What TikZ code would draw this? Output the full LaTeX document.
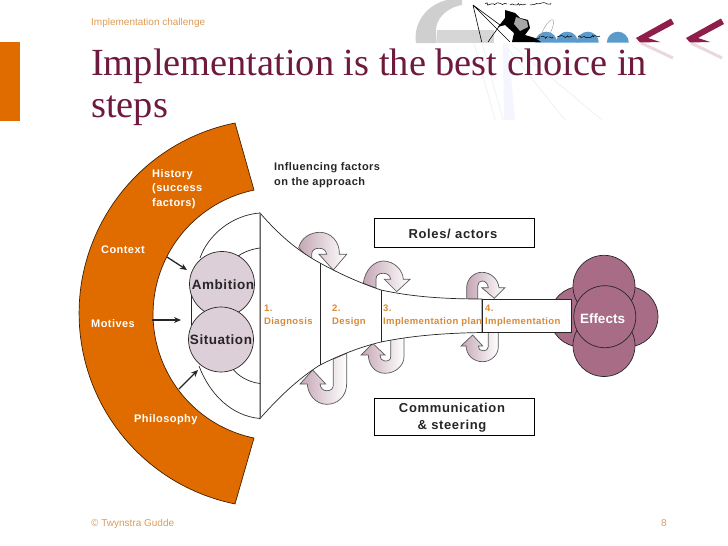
\documentclass[tikz,border=0pt]{standalone}
\usepackage{fontspec}
\usetikzlibrary{decorations.pathmorphing,arrows.meta}
\setmainfont{Liberation Sans}
\newfontfamily\titlefont{Liberation Serif}
\newfontfamily\labfont[LetterSpace=4]{Liberation Sans}
\newfontfamily\labwide[LetterSpace=5]{Liberation Sans}
\definecolor{orangeb}{HTML}{E06C00}
\definecolor{titlec}{HTML}{6E1A3E}
\definecolor{headc}{HTML}{DE9A55}
\definecolor{stepc}{HTML}{D98A35}
\definecolor{palem}{HTML}{DDCFD7}
\definecolor{effc}{HTML}{A96C87}
\definecolor{arrowm}{HTML}{C5A6B5}
\definecolor{chev}{HTML}{8E1F4A}
\definecolor{chevr}{HTML}{EBD8DF}
\definecolor{bluec}{HTML}{5B9BCB}
\definecolor{greyc}{HTML}{CFCFCF}
\tikzset{
  outl/.style={draw=black!85,line width=0.7pt},
  turn/.style={draw=black!65,line width=0.7pt,left color=arrowm,right color=white},
  lab/.style={inner sep=0pt,anchor=west,font=\labfont\bfseries\fontsize{11}{14.5}\selectfont,align=left},
  wlab/.style={lab,text=white},
  steplab/.style={inner sep=0pt,anchor=west,font=\labfont\bfseries\fontsize{9.5}{13}\selectfont,align=left,text=stepc},
  bub/.style={circle,draw=black!85,line width=0.7pt,fill=palem,inner sep=0pt,minimum size=65pt},
  bubtxt/.style={inner sep=0pt,font=\labfont\bfseries\fontsize{13.5}{14}\selectfont,text=black!85},
  eff/.style={circle,draw=black!85,line width=0.7pt,fill=effc,inner sep=0pt},
  infl/.style={-{Stealth[length=7pt,width=6pt]},line width=1.3pt,draw=black!85},
  tbox/.style={draw=black,line width=0.7pt,fill=white,inner sep=0pt,anchor=north west},
  tboxtxt/.style={inner sep=0pt,align=center,font=\labwide\bfseries\fontsize{13}{17}\selectfont,text=black!85},
  ttl/.style={inner sep=0pt,anchor=base west,text=titlec,font=\titlefont\fontsize{38.4}{42}\selectfont},
  small/.style={inner sep=0pt,text=headc,font=\fontsize{10}{11}\selectfont},
  scrawl/.style={black,line width=0.5pt,decorate,decoration={random steps,segment length=2pt,amplitude=1.3pt}}
}
\begin{document}
\begin{tikzpicture}[x=1pt,y=1pt,yscale=-1]
\useasboundingbox (0,0) rectangle (728,546);
% logo
\fill[greyc] (416,43) .. controls (413,25) and (425,5) .. (447,0) -- (462,0) -- (462,5) .. controls (445,8) and (436,20) .. (436,30) -- (436.7,43) -- cycle;
\fill[greyc!85] (436.7,30) rectangle (494,42.7);
\draw[black!6,line width=0.8pt] (474,43) -- (495,120) (482,43) -- (503,120) (505,45) -- (565,120) (512,45) -- (602,120);
\fill[blue!4] (503,43) -- (508,43) -- (515,120) -- (504,120) -- cycle;
\foreach \cx in {545.7,566.7,587.3,617.3}{\fill[bluec] (\cx-10.5,42.7) arc[start angle=180,end angle=360,radius=11] -- cycle;}
\draw[black,line width=0.6pt] (473,5) -- (481.7,42) (473,5) -- (510,42) (473,5) -- (500,25) (500,25) -- (488,42);
\fill[black] (505,10) -- (515,13) -- (520,18) -- (528,20) -- (530,28) -- (525,35) -- (535,38) -- (541,42) -- (512,42) -- (514,33) -- (505,25) -- (498,27) -- (505,18) -- cycle;
\fill[black!35] (516,17) -- (527,21) -- (528,27) -- (520,31) -- (514,24) -- cycle;
\draw[scrawl] (485,4) -- (507,4);
\draw[scrawl] (510,5) -- (526,4);
\draw[scrawl] (530,5) -- (551,3);
\draw[scrawl] (536,38) -- (553,37);
\draw[scrawl] (557,37) -- (572,36);
\draw[scrawl] (578,37) -- (600,36);
\draw[black!40,line width=0.4pt] (540,38) .. controls (543,28) and (550,18) .. (553,20) .. controls (555,24) and (550,36) .. (545,41);
\draw[chevr,line width=3pt] (641,43) -- (673,58);
\draw[chevr,line width=3pt] (691,43) -- (722,58);
\fill[chev] (671,18.5) -- (674,24) -- (648,38) -- (660,42) -- (640,42.5) -- (636,38) -- cycle;
\fill[chev] (721,18.5) -- (724,24) -- (698,38) -- (710,42) -- (690,42.5) -- (686,38) -- cycle;
% header etc.
\fill[orangeb] (0,42) rectangle (20,121);
\node[small,anchor=base west] (head) at (91,25) {Implementation challenge};
\node[ttl] (t1) at (91,75) {Implementation is the best choice in};
\node[ttl] (t2) at (91,117) {steps};
\node[small,anchor=base west] (foot) at (91,526) {© Twynstra Gudde};
\node[small,anchor=base east] (pageno) at (667,526) {8};
% ring
\draw[fill=orangeb,draw=black!70!orangeb,line width=0.7pt] (235,123) arc[start angle=258.6,end angle=101.4,radius=194.3] -- (254,438) arc[start angle=101.7,end angle=258.3,radius=126.6] -- cycle;
% turning arrows
\path[turn] (298.7,247.7) .. controls (301,238) and (310,232.3) .. (320,232.3) .. controls (331,232.3) and (340,242) .. (339.3,254.3) -- (346.7,254.3) -- (333.3,270) -- (319,254.3) -- (326.7,254.3) .. controls (326,250) and (323,248.3) .. (319,248.3) .. controls (315,248.3) and (311.7,250) .. (311.7,254) -- (311.7,262) -- cycle;
\path[turn] (363.3,283.3) .. controls (365,270) and (374,261) .. (383.3,261) .. controls (394,261) and (403,270) .. (403.3,279.3) -- (410,279.3) -- (396.7,291.7) -- (384.3,279.3) -- (390.7,279.3) .. controls (390,275) and (387,273.3) .. (383.3,273.3) .. controls (379,273.3) and (376,275) .. (376,279) -- (376,288) -- cycle;
\path[turn] (466.7,299) -- (466.7,287) .. controls (467,279) and (474,272.3) .. (481.7,272.3) .. controls (491,272.3) and (498,279) .. (499,287.7) -- (505,287.7) -- (494.3,298.3) -- (481.7,287.7) -- (488.3,287.7) .. controls (488,284) and (485.5,281) .. (482.3,281) .. controls (479.5,281) and (477.7,283) .. (477.7,286) -- (477.7,299) -- cycle;
\path[turn] (346.7,353.3) -- (346.7,383.3) .. controls (346.7,396) and (338,404.3) .. (326.7,404.3) .. controls (316,404.3) and (308,395) .. (307.3,384) -- (300,384) -- (312.7,370) -- (325.7,384) -- (320,384) .. controls (320.5,388) and (323,390.7) .. (326.7,390.7) .. controls (330.5,390.7) and (333.3,389) .. (333.3,385) -- (333.3,359) -- cycle;
\path[turn] (404,336.7) -- (404,356.7) .. controls (404,366) and (395,373.3) .. (385,373.3) .. controls (375,373.3) and (368.5,365) .. (368.3,355) -- (361,355) -- (372.7,343.3) -- (385,355) -- (380,355) .. controls (380.5,359) and (382,361) .. (385,361) .. controls (388.5,361) and (390.7,360) .. (390.7,356.7) -- (390.7,338) -- cycle;
\path[turn] (498.3,331.7) -- (498.3,346.7) .. controls (498.3,355) and (491,361.7) .. (482.7,361.7) .. controls (473,361.7) and (466.5,355) .. (466,346) -- (461,346) -- (472.7,335) -- (482.7,346) -- (478.3,346) .. controls (478.5,349) and (480,350.7) .. (482.7,350.7) .. controls (486,350.7) and (488.3,349.5) .. (488.3,346.7) -- (488.3,331.7) -- cycle;
% effects circles
\node[eff,minimum size=60pt] (effL) at (580,316.7) {};
\node[eff,minimum size=60pt] (effR) at (628,316.7) {};
\node[eff,minimum size=62pt] (effT) at (604,286.3) {};
\node[eff,minimum size=62pt] (effB) at (604,345.5) {};
\node[eff,minimum size=62pt] (eff) at (604.8,316.7) {};
\node[inner sep=0pt,text=white,font=\bfseries\fontsize{13.5}{14}\selectfont] (effText) at (602.5,318.5) {Effects};
% funnel
\path[fill=white,outl] (260,213) .. controls (280,236) and (298,251) .. (320,263) .. controls (340,274) and (360,283) .. (381,290) .. controls (415,297.5) and (450,299) .. (482,299) -- (482,332.5) .. controls (450,333) and (415,335) .. (381,342) .. controls (360,347) and (340,355) .. (320,365) .. controls (298,379) and (280,396) .. (260,418.5) -- cycle;
\draw[fill=white,outl] (482,299) rectangle (571,332.5);
\draw[black!60,line width=1pt] (260,213) -- (260,418.5);
\draw[outl] (320,263) -- (320,365) (381,290) -- (381,342);
% dome
\draw[outl] (260,213) .. controls (232,215) and (208,235) .. (200,258);
\draw[outl] (260,418.5) .. controls (232,416) and (210,395) .. (199,366);
\draw[outl] (237,257) .. controls (243,252) and (252,249) .. (260,248);
\draw[outl] (232,368) .. controls (238,376) and (248,382) .. (260,383.5);
\draw[outl] (191,290) -- (191,325);
\node[bub] (amb) at (222,284) {};
\node[bub] (sit) at (221,339.5) {};
\node[bubtxt] (ambText) at (223,285) {Ambition};
\node[bubtxt] (sitText) at (221,340) {Situation};
% influence arrows
\coordinate (c1) at (167,257); \coordinate (c2) at (187,270);
\coordinate (m1) at (152,320); \coordinate (m2) at (181,320);
\coordinate (p1) at (179,389); \coordinate (p2) at (198,370);
\draw[infl] (c1) -- (c2);
\draw[infl] (m1) -- (m2);
\draw[infl] (p1) -- (p2);
% ring labels
\node[wlab] (hist) at (152,189) {History\\(success\\factors)};
\node[wlab] (ctx) at (101,249.5) {Context};
\node[wlab] (mot) at (91,323.5) {Motives};
\node[wlab] (phil) at (134,419.5) {Philosophy};
\node[lab,text=black!85] (infltxt) at (274,175) {Influencing factors\\on the approach};
% step labels
\node[steplab] (s1) at (264,316) {1.\\Diagnosis};
\node[steplab] (s2) at (332,316) {2.\\Design};
\node[steplab] (s3) at (383,316) {3.\\Implementation plan};
\node[steplab] (s4) at (485,316) {4.\\Implementation};
% boxes
\node[tbox,minimum width=159.4pt,minimum height=29pt] (roles) at (374.3,218.3) {};
\node[tboxtxt] (rolesText) at (453,234) {Roles/ actors};
\node[tbox,minimum width=159.4pt,minimum height=37pt] (comm) at (374.3,398.3) {};
\node[tboxtxt] (commText) at (452,418) {Communication\\\& steering};
\end{tikzpicture}
\end{document}
